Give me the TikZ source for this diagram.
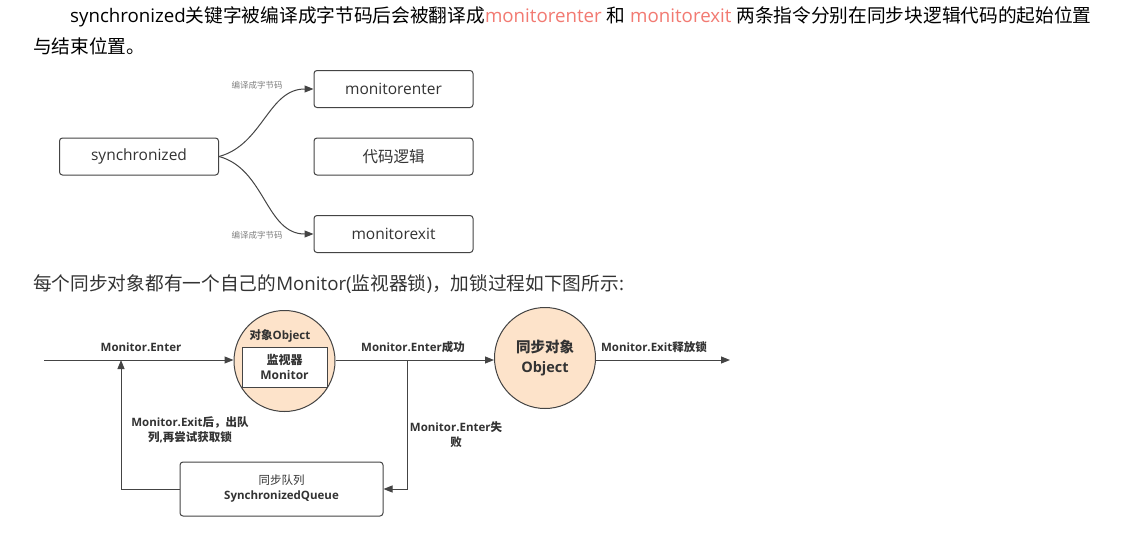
\documentclass[tikz,border=0pt]{standalone}
\usepackage{fontspec}
\setmainfont{Open Sans}
\newfontfamily\cjkfont{Noto Sans CJK SC}
\usetikzlibrary{positioning,arrows.meta}
\definecolor{txt}{HTML}{333333}
\definecolor{pinktxt}{HTML}{F27A72}
\definecolor{peach}{HTML}{FDE3CA}
\definecolor{edge}{HTML}{444444}
% switch to the CJK family for Chinese characters
\XeTeXinterchartokenstate=1
\newXeTeXintercharclass\cjkchars
\newcount\cjkcode
\cjkcode="3000 \loop\ifnum\cjkcode<"3040 \XeTeXcharclass\cjkcode=\cjkchars \advance\cjkcode by 1 \repeat
\cjkcode="4E00 \loop\ifnum\cjkcode<"A000 \XeTeXcharclass\cjkcode=\cjkchars \advance\cjkcode by 1 \repeat
\cjkcode="FF00 \loop\ifnum\cjkcode<"FFF0 \XeTeXcharclass\cjkcode=\cjkchars \advance\cjkcode by 1 \repeat
\XeTeXinterchartoks 0 \cjkchars = {\begingroup\cjkfont}
\XeTeXinterchartoks 4095 \cjkchars = {\begingroup\cjkfont}
\XeTeXinterchartoks \cjkchars 0 = {\endgroup}
\XeTeXinterchartoks \cjkchars 4095 = {\endgroup}

\begin{document}
\begin{tikzpicture}[
	x=1pt,y=-1pt,
	box/.style={draw=edge,rounded corners=3pt,line width=1pt,minimum width=159pt,minimum height=37pt,font=\fontsize{15.5}{18}\selectfont,text=txt},
	tag/.style={font=\fontsize{8.5}{10}\selectfont,text=gray},
	lbl/.style={font=\bfseries\fontsize{11.5}{15}\selectfont,text=txt,align=center},
	flow/.style={draw=edge,line width=1pt,-{Triangle[length=9pt,width=7pt]}},
	obj/.style={circle,draw=edge,fill=peach,line width=1pt,minimum size=101pt},
	para/.style={anchor=base west,inner sep=0,font=\fontsize{18.7}{22}\selectfont}
]
\useasboundingbox[fill=white] (0,0) rectangle (1127,536);
% paragraphs
\node[para] (para1) at (70,22) {synchronized关键字被编译成字节码后会被翻译成\textcolor{pinktxt}{monitorenter} 和 \textcolor{pinktxt}{monitorexit} 两条指令分别在同步块逻辑代码的起始位置};
\node[para] (para2) at (33,53) {与结束位置。};
\node[para,text=txt] (para3) at (33,290) {每个同步对象都有一个自己的Monitor(监视器锁)，加锁过程如下图所示:};
% first diagram
\node[box] (sync) at (139,156.5) {synchronized};
\node[box] (enter) at (393.5,89) {monitorenter};
\node[box] (code) at (393.5,156.5) {代码逻辑};
\node[box] (exit) at (393.5,234) {monitorexit};
\draw[flow] (sync.east) to[out=15,in=180] (enter.west);
\draw[flow] (sync.east) to[out=-15,in=180] (exit.west);
\node[tag] (tagenter) at (257,85) {编译成字节码};
\node[tag] (tagexit) at (257,235) {编译成字节码};
% second diagram
\coordinate (start) at (44,360);
\coordinate (stop) at (730,360);
\node[obj] (lock) at (284.5,361) {};
\node[lbl] (lockname) at (280,336) {对象Object};
\node[draw=edge,fill=white,line width=1pt,minimum width=85pt,minimum height=40pt,lbl,font=\bfseries\fontsize{12}{15}\selectfont] (monitor) at (284.5,367) {监视器\\Monitor};
\node[obj,lbl,font=\bfseries\fontsize{14.5}{20}\selectfont] (holder) at (545,358) {同步对象\\Object};
\node[box,lbl,minimum width=203pt,minimum height=54pt] (queue) at (281.5,489) {{\mdseries 同步队列}\\SynchronizedQueue};
\coordinate (fork) at (407,360);
\coordinate (join) at (121,360);
\draw[flow] (start) -- (start -| lock.west);
\draw[flow] (start -| lock.east) -- (start -| holder.west);
\draw[flow] (start -| holder.east) -- (stop);
\draw[flow] (fork) |- (queue.east);
\draw[flow] (queue.west) -| (join);
\node[lbl] (lblenter) at (141,347) {Monitor.Enter};
\node[lbl] (lblok) at (413,347) {Monitor.Enter成功};
\node[lbl] (lblexit) at (654,347) {Monitor.Exit释放锁};
\node[lbl] (lblretry) at (190,430) {Monitor.Exit后，出队\\列,再尝试获取锁};
\node[lbl] (lblfail) at (456,435) {Monitor.Enter失\\败};
\end{tikzpicture}
\end{document}
